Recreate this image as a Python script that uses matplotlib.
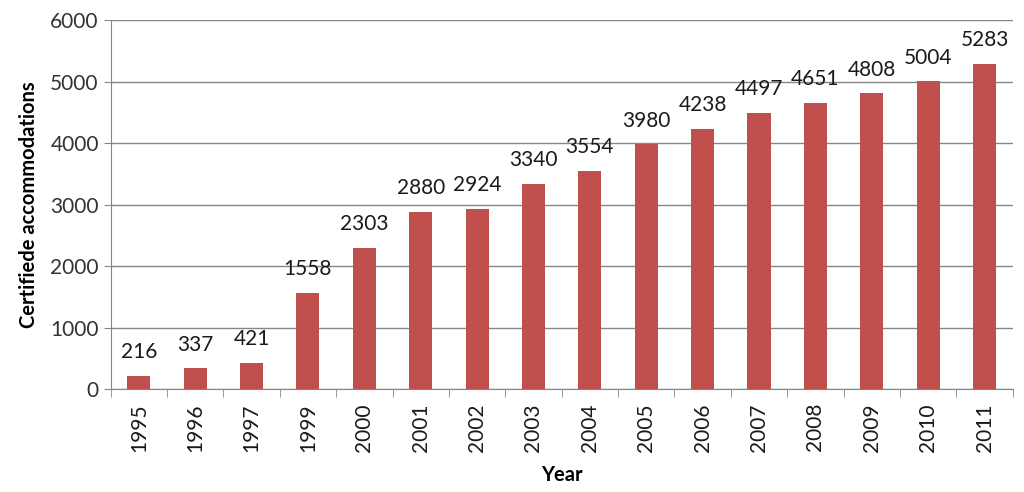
import numpy as np
import matplotlib.pyplot as plt

years = ["1995", "1996", "1997", "1999", "2000", "2001", "2002", "2003",
         "2004", "2005", "2006", "2007", "2008", "2009", "2010", "2011"]
accommodations = [216, 337, 421, 1558, 2303, 2880, 2924, 3340,
                  3554, 3980, 4238, 4497, 4651, 4808, 5004, 5283]

plt.rcParams["font.family"] = ["Lato", "DejaVu Sans"]

fig = plt.figure(figsize=(10.24, 4.92), dpi=100)
ax = fig.add_axes([0.108, 0.209, 0.881, 0.75])

x = np.arange(len(years))
bars = ax.bar(x, accommodations, width=0.41, color="#C0504D", zorder=3)

for xi, v in zip(x, accommodations):
    ax.annotate(str(v), (xi, v), xytext=(0, 10), textcoords="offset points",
                ha="center", va="bottom", fontsize=15, color="#1a1a1a", zorder=4)

ax.set_xlim(-0.5, len(years) - 0.5)
ax.set_ylim(0, 6000)
ax.set_yticks(np.arange(0, 6001, 1000))
ax.tick_params(axis="y", labelsize=15, length=5, color="#868686", labelcolor="#333333")

ax.set_xticks(x)
ax.set_xticklabels(years, rotation=90, fontsize=15, color="#1a1a1a")
ax.tick_params(axis="x", which="major", length=0, pad=10)
ax.set_xticks(np.arange(-0.5, len(years), 1), minor=True)
ax.tick_params(axis="x", which="minor", length=6, color="#868686")

ax.yaxis.grid(True, color="#868686", linewidth=1, zorder=0)
ax.set_axisbelow(True)

for s in ["top", "right"]:
    ax.spines[s].set_visible(False)
for s in ["left", "bottom"]:
    ax.spines[s].set_color("#868686")

ax.set_ylabel("Certifiede accommodations", fontsize=14.5, fontweight="bold", labelpad=8)
ax.set_xlabel("Year", fontsize=14.5, fontweight="bold", labelpad=10)

fig.savefig("out.png", dpi=100)
